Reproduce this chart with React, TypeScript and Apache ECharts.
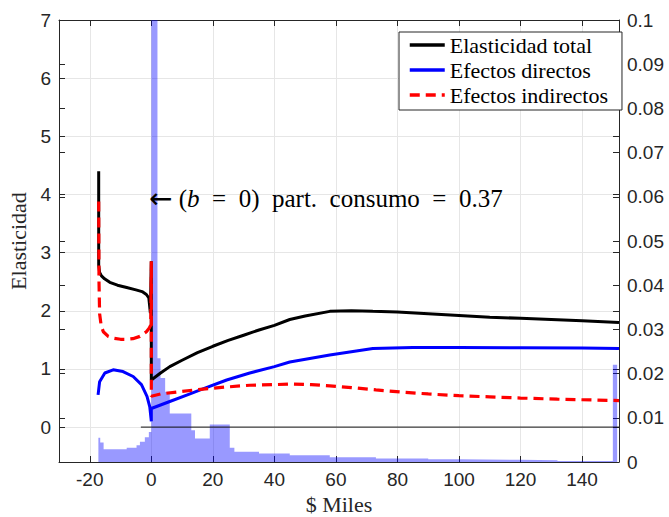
import React, { useEffect, useRef } from "react";
import * as echarts from "echarts";

// ---------- data ----------
const totalX = [-17.1, -17.1, -16.8, -16.2, -15.2, -13.5, -11, -8, -5, -3, -1.6, -0.8, -0.3, 0, 0, 3, 6, 10, 15, 20, 25, 30, 35, 40, 45, 50, 58, 65, 72, 80, 90, 100, 110, 120, 130, 140, 152];
const totalY = [4.4, 2.78, 2.66, 2.6, 2.55, 2.49, 2.44, 2.4, 2.36, 2.33, 2.28, 2.22, 1.96, 2.85, 0.81, 0.93, 1.04, 1.15, 1.28, 1.39, 1.49, 1.58, 1.67, 1.75, 1.85, 1.91, 1.99, 2.0, 1.99, 1.98, 1.95, 1.92, 1.89, 1.87, 1.85, 1.83, 1.8];

const directX = [-17.3, -16.8, -15.1, -12.4, -9.2, -5.9, -3.2, -1.4, -0.5, -0.1, 0, 0, 3, 6, 11.5, 17, 24.5, 32, 40, 45, 58, 72, 85, 100, 120, 140, 152];
const directY = [0.555, 0.78, 0.93, 0.985, 0.955, 0.87, 0.73, 0.53, 0.35, 0.15, 0.1, 0.32, 0.38, 0.44, 0.55, 0.66, 0.81, 0.93, 1.04, 1.12, 1.24, 1.35, 1.37, 1.37, 1.365, 1.36, 1.35];

const indirectX = [-17.1, -17.0, -16.8, -16.3, -15.6, -14, -12.4, -10, -8.1, -6, -3.7, -1.6, -0.7, -0.2, 0, 0, 3, 9.3, 16, 24.5, 32, 39.6, 45, 52, 58, 65, 73, 82, 90, 100, 110, 120, 132, 140, 152];
const indirectY = [3.88, 2.5, 1.95, 1.75, 1.64, 1.56, 1.53, 1.51, 1.51, 1.52, 1.56, 1.64, 1.7, 1.75, 2.85, 0.53, 0.57, 0.61, 0.65, 0.69, 0.72, 0.73, 0.74, 0.73, 0.71, 0.68, 0.64, 0.6, 0.57, 0.54, 0.52, 0.5, 0.48, 0.47, 0.457];

// histogram (right axis): bin edges and heights
const histEdges = [-17.2, -16.6, -15.5, -8, -4.8, -3.7, -2.1, -0.8, 0, 2, 3, 4.5, 6, 13, 14.2, 19, 25.5, 27, 35, 45, 58, 73, 90, 100, 120, 132, 150, 151.4];
const histHeights = [0.0055, 0.0044, 0.0029, 0.0032, 0.0038, 0.0046, 0.0056, 0.0068, 0.12, 0.0235, 0.019, 0.0159, 0.011, 0.0072, 0.0053, 0.0085, 0.0032, 0.0023, 0.0019, 0.0015, 0.0011, 0.0008, 0.0006, 0.0005, 0.0004, 0.0002, 0.022];

// reference line at elasticity 0
const zeroLineX = [-3.4, 152];
const zeroLineY = [0, 0];

const xRange = [-30, 152];
const yLeftRange = [-0.6, 7];
const yRightRange = [0, 0.1];
const yRightStep = 0.01;

const seriesNames = ["Elasticidad total", "Efectos directos", "Efectos indirectos"];
const annotation = ["←", "(", "b", "  =  0)  part.  consumo  =  0.37"];

// ---------- helpers ----------
const pairs = (xs: number[], ys: number[]) => xs.map((x, i) => [x, ys[i]]);
const histOutline = (edges: number[], heights: number[]) => {
  const pts: number[][] = [[edges[0], 0]];
  heights.forEach((h, i) => {
    pts.push([edges[i], h]);
    pts.push([edges[i + 1], h]);
  });
  pts.push([edges[edges.length - 1], 0]);
  return pts;
};

const SANS = "'Liberation Sans', Arial, Helvetica, sans-serif";
const SERIF = "'Liberation Serif', 'Times New Roman', serif";
const AX = "#262626";
const GRID = "#e6e6e6";

export default function App() {
  const ref = useRef<HTMLDivElement>(null);
  useEffect(() => {
    if (!ref.current) return;
    const chart = echarts.init(ref.current, undefined, { renderer: "svg" });
    const tickStyle = { show: true, inside: true, length: 6, lineStyle: { color: AX } };
    const option: any = {
      animation: false,
      backgroundColor: "#fff",
      grid: { left: 59, right: 50, top: 20, bottom: 55, containLabel: false, outerBoundsMode: "none" },
      legend: {
        data: seriesNames,
        orient: "vertical",
        left: 399,
        top: 32,
        padding: [2, 14, 4, 9],
        itemGap: 3,
        itemWidth: 35,
        itemHeight: 14,
        itemTextGap: 6,
        backgroundColor: "#fff",
        borderColor: AX,
        borderWidth: 1,
        borderRadius: 0,
        itemStyle: { opacity: 0 },
        lineStyle: { width: 3.5 },
        textStyle: { fontFamily: SERIF, fontSize: 22, color: "#000", lineHeight: 22 },
      },
      xAxis: [
        {
          type: "value",
          min: xRange[0],
          max: xRange[1],
          splitNumber: 9,
          name: "$ Miles",
          nameLocation: "middle",
          nameGap: 29,
          nameTextStyle: { fontFamily: SERIF, fontSize: 22, color: AX },
          axisLine: { show: true, onZero: false, lineStyle: { color: AX } },
          axisTick: tickStyle,
          axisLabel: {
            fontFamily: SANS,
            fontSize: 19,
            color: AX,
            margin: 8,
            formatter: (v: number) => (Math.abs(v % 20) < 1e-9 ? String(v) : ""),
          },
          splitLine: { show: true, lineStyle: { color: GRID } },
        },
        {
          type: "value",
          position: "top",
          min: xRange[0],
          max: xRange[1],
          splitNumber: 9,
          axisLine: { show: true, onZero: false, lineStyle: { color: AX } },
          axisTick: tickStyle,
          axisLabel: { show: false },
          splitLine: { show: false },
        },
      ],
      yAxis: [
        {
          type: "value",
          position: "left",
          min: yLeftRange[0],
          max: yLeftRange[1],
          splitNumber: 8,
          name: "Elasticidad",
          nameLocation: "middle",
          nameGap: 27,
          nameTextStyle: { fontFamily: SERIF, fontSize: 22, color: AX },
          axisLine: { show: true, onZero: false, lineStyle: { color: AX } },
          axisTick: tickStyle,
          axisLabel: {
            fontFamily: SANS,
            fontSize: 19,
            color: AX,
            margin: 8,
            formatter: (v: number) => (Math.abs(v - Math.round(v)) < 1e-6 ? String(Math.round(v)) : ""),
          },
          splitLine: { show: true, lineStyle: { color: GRID } },
        },
        {
          type: "value",
          position: "right",
          min: yRightRange[0],
          max: yRightRange[1],
          interval: yRightStep,
          axisLine: { show: true, onZero: false, lineStyle: { color: AX } },
          axisTick: tickStyle,
          axisLabel: { fontFamily: SANS, fontSize: 19, color: AX, margin: 8 },
          splitLine: { show: false },
        },
        {
          type: "value",
          position: "left",
          min: yRightRange[0],
          max: yRightRange[1],
          interval: yRightStep,
          axisLine: { show: false, onZero: false },
          axisTick: tickStyle,
          axisLabel: { show: false },
          splitLine: { show: false },
        },
        {
          type: "value",
          position: "right",
          min: yLeftRange[0],
          max: yLeftRange[1],
          splitNumber: 8,
          axisLine: { show: false, onZero: false },
          axisTick: tickStyle,
          axisLabel: { show: false },
          splitLine: { show: false },
        },
      ],
      series: [
        {
          name: "hist",
          type: "line",
          yAxisIndex: 1,
          data: histOutline(histEdges, histHeights),
          symbol: "none",
          lineStyle: { width: 0 },
          areaStyle: { color: "rgba(0,0,255,0.4)", opacity: 1 },
          silent: true,
          z: 1,
        },
        {
          name: "zero",
          type: "line",
          data: pairs(zeroLineX, zeroLineY),
          symbol: "none",
          lineStyle: { color: "#111", width: 1 },
          silent: true,
          z: 2,
        },
        {
          name: seriesNames[0],
          type: "line",
          data: pairs(totalX, totalY),
          symbol: "none",
          lineStyle: { color: "#000", width: 3 },
          itemStyle: { color: "#000" },
          z: 3,
        },
        {
          name: seriesNames[1],
          type: "line",
          data: pairs(directX, directY),
          symbol: "none",
          lineStyle: { color: "#0000ff", width: 3 },
          itemStyle: { color: "#0000ff" },
          z: 4,
        },
        {
          name: seriesNames[2],
          type: "line",
          data: pairs(indirectX, indirectY),
          symbol: "none",
          lineStyle: { color: "#ff0000", width: 3.2, type: [10, 6] },
          itemStyle: { color: "#ff0000" },
          z: 5,
        },
      ],
      graphic: [
        {
          type: "text",
          x: 149,
          y: 198,
          z: 10,
          style: {
            text: `{a|${annotation[0]}}{n| ${annotation[1]}}{i|${annotation[2]}}{n|${annotation[3]}}`,
            verticalAlign: "middle",
            fill: "#000",
            fontFamily: SERIF,
            fontSize: 25,
            rich: {
              a: { fontFamily: "'DejaVu Sans', sans-serif", fontSize: 28, fill: "#000" },
              n: { fontFamily: SERIF, fontSize: 25, fill: "#000" },
              i: { fontFamily: SERIF, fontSize: 25, fontStyle: "italic", fill: "#000" },
            },
          },
        },
      ],
    };
    chart.setOption(option);
    return () => chart.dispose();
  }, []);
  return (
    <div
      ref={ref}
      style={{ position: "fixed", left: 0, top: 0, width: 669, height: 517, background: "#fff" }}
    />
  );
}
